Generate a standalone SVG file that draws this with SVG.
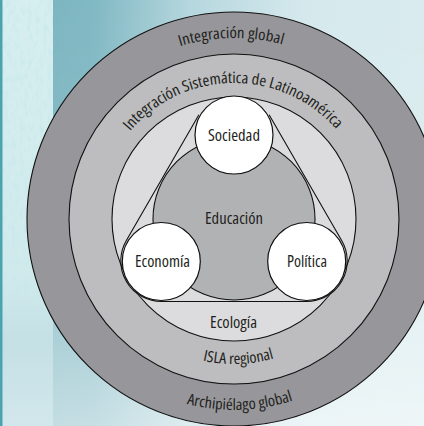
<svg xmlns="http://www.w3.org/2000/svg" xmlns:xlink="http://www.w3.org/1999/xlink" width="424" height="426" viewBox="0 0 424 426">
  <style>
    .lbl { font-family: "Open Sans", "Noto Sans", "Liberation Sans", sans-serif; font-stretch: condensed; font-size: 16.5px; fill: #231f20; }
    .arc { font-size: 15.5px; }
    .ring { stroke: #111; stroke-width: 1.1; }
    .node { fill: #ffffff; stroke: #111; stroke-width: 1.2; }
  </style>
  <defs>
    <linearGradient id="bgH" x1="0" y1="0" x2="1" y2="0">
      <stop offset="0" stop-color="#78b2bd"/>
      <stop offset="0.22" stop-color="#80b8c3"/>
      <stop offset="0.45" stop-color="#b6d7de"/>
      <stop offset="0.72" stop-color="#d5e9ed"/>
      <stop offset="1" stop-color="#d9ebee"/>
    </linearGradient>
    <linearGradient id="bgV" x1="0" y1="0" x2="0" y2="1">
      <stop offset="0" stop-color="#ffffff" stop-opacity="0"/>
      <stop offset="0.5" stop-color="#ffffff" stop-opacity="0.1"/>
      <stop offset="1" stop-color="#ffffff" stop-opacity="0.55"/>
    </linearGradient>
    <linearGradient id="strip" x1="0" y1="0" x2="0" y2="1">
      <stop offset="0" stop-color="#d6eef0"/>
      <stop offset="0.65" stop-color="#d0eaec"/>
      <stop offset="0.8" stop-color="#c4e0e5"/>
      <stop offset="1" stop-color="#d2e7ec"/>
    </linearGradient>
    <filter id="tex" x="0" y="0" width="1" height="1">
      <feTurbulence type="fractalNoise" baseFrequency="0.25 0.12" numOctaves="2" seed="4" result="n"/>
      <feColorMatrix in="n" type="matrix" values="0 0 0 0 0.55  0 0 0 0 0.8  0 0 0 0 0.82  0 0 0 1.6 -0.72" result="c"/>
      <feComposite in="c" in2="SourceGraphic" operator="in"/>
    </filter>
    <path id="p1" d="M 53 219 A 181 181 0 0 1 415 219"/>
    <path id="p2" d="M 98 219 A 136 136 0 0 1 370 219"/>
    <path id="p3" d="M 89 219 A 145 145 0 0 0 379 219"/>
    <path id="p4" d="M 43 219 A 191 191 0 0 0 425 219"/>
  </defs>

  <g id="background">
    <rect x="0" y="0" width="424" height="426" fill="url(#bgH)"/>
    <rect x="0" y="0" width="424" height="426" fill="url(#bgV)"/>
    <rect x="0" y="0" width="53" height="426" fill="url(#strip)"/>
    <rect x="0" y="0" width="53" height="300" fill="#fff" filter="url(#tex)"/>
    <rect x="0" y="0" width="2.5" height="426" fill="#4aa3ad"/>
  </g>

  <g id="ring-global">
    <circle cx="234" cy="219" r="207" fill="#97979b" class="ring"/>
    <text class="lbl arc"><textPath href="#p1" startOffset="49.5%" text-anchor="middle" textLength="104" lengthAdjust="spacingAndGlyphs">Integración global</textPath></text>
    <text class="lbl arc"><textPath href="#p4" startOffset="51%" text-anchor="middle" textLength="108" lengthAdjust="spacingAndGlyphs">Archipiélago global</textPath></text>
  </g>

  <g id="ring-regional">
    <circle cx="234" cy="219" r="165" fill="#bdbdbf" class="ring"/>
    <text class="lbl arc"><textPath href="#p2" startOffset="49.7%" text-anchor="middle" textLength="234" lengthAdjust="spacingAndGlyphs">Integración Sistemática de Latinoamérica</textPath></text>
    <text class="lbl arc"><textPath href="#p3" startOffset="51%" text-anchor="middle" textLength="72" lengthAdjust="spacingAndGlyphs">ISLA regional</textPath></text>
  </g>

  <g id="ring-ecologia">
    <circle cx="234" cy="219" r="122" fill="#dcdcde" class="ring"/>
    <text class="lbl" x="233.5" y="328" text-anchor="middle" textLength="47" lengthAdjust="spacingAndGlyphs">Ecología</text>
  </g>

  <g id="connectors">
    <path d="M 198.9 114.8 L 126.2 240.8 A 40.5 40.5 0 0 0 161.3 301.5 L 306.7 301.5 A 40.5 40.5 0 0 0 341.8 240.8 L 269.1 114.8" fill="none" stroke="#111" stroke-width="1.1"/>
  </g>

  <g id="educacion">
    <circle cx="234" cy="219" r="81" fill="#b1b2b4" stroke="#111" stroke-width="1.1"/>
    <text class="lbl" x="234" y="224" text-anchor="middle" textLength="58" lengthAdjust="spacingAndGlyphs">Educación</text>
  </g>

  <g id="sociedad">
    <circle cx="234" cy="135" r="39" class="node"/>
    <text class="lbl" x="234" y="140.5" text-anchor="middle" textLength="52" lengthAdjust="spacingAndGlyphs">Sociedad</text>
  </g>

  <g id="economia">
    <circle cx="161.3" cy="261.5" r="39" class="node"/>
    <text class="lbl" x="162.5" y="267" text-anchor="middle" textLength="55" lengthAdjust="spacingAndGlyphs">Economía</text>
  </g>

  <g id="politica">
    <circle cx="306.7" cy="261.5" r="39" class="node"/>
    <text class="lbl" x="307" y="267" text-anchor="middle" textLength="40" lengthAdjust="spacingAndGlyphs">Política</text>
  </g>
</svg>
